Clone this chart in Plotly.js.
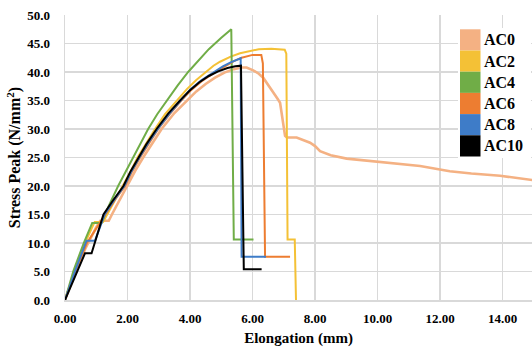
<!DOCTYPE html>
<html>
<head>
<meta charset="utf-8">
<script src="https://cdn.plot.ly/plotly-3.0.1.min.js"></script>
<style>html,body{margin:0;padding:0;background:#fff;}#chart{width:532px;height:349px;}</style>
</head>
<body>
<div id="chart"></div>
<script>
// Series names and colours
const seriesNames = ["AC0", "AC2", "AC4", "AC6", "AC8", "AC10"];
const seriesColors = ["#F4B183", "#F4C136", "#70AD47", "#ED7D31", "#3E7CC8", "#000000"];

// Elongation (mm) / Stress (N/mm2) values
const ac0X = [0, 0.3, 0.65, 1.0, 1.13, 1.40, 1.5, 1.75, 1.97, 2.25, 2.5, 2.8, 3.09, 3.5, 3.89, 4.2, 4.5, 4.8, 5.1, 5.4, 5.65, 5.81, 6.02, 6.2, 6.34, 6.6, 6.8, 6.88, 6.98, 7.04, 7.1, 7.41, 7.84, 8.0, 8.16, 8.5, 9.01, 10.08, 11.36, 12.31, 13.0, 13.92, 15.0];
const ac0Y = [0, 4.5, 9.0, 12.8, 13.9, 13.9, 15.0, 17.6, 20.0, 22.7, 25.0, 27.6, 30.0, 32.8, 35.0, 36.6, 37.9, 39.0, 39.9, 40.5, 40.8, 40.8, 40.3, 39.7, 39.0, 37.0, 35.3, 34.6, 31.1, 28.8, 28.5, 28.5, 27.6, 27.0, 26.1, 25.4, 24.8, 24.2, 23.5, 22.6, 22.2, 21.8, 21.0];

const ac2X = [0, 0.3, 0.6, 0.95, 1.22, 1.35, 1.6, 1.85, 2.1, 2.32, 2.6, 2.88, 3.2, 3.58, 3.9, 4.2, 4.5, 4.75, 4.96, 5.3, 5.6, 5.9, 6.2, 6.6, 6.9, 7.03, 7.08, 7.12, 7.35, 7.39];
const ac2Y = [0, 5.0, 9.5, 13.7, 13.7, 15.0, 17.6, 20.0, 22.6, 25.0, 27.6, 30.0, 32.6, 35.0, 37.0, 38.6, 40.0, 41.1, 41.8, 42.7, 43.3, 43.7, 44.0, 44.1, 44.0, 43.9, 43.2, 10.6, 10.6, 0];

const ac4X = [0, 0.27, 0.6, 0.87, 1.17, 1.4, 1.70, 1.95, 2.19, 2.4, 2.66, 2.95, 3.26, 3.6, 3.94, 4.3, 4.6, 5.0, 5.32, 5.40, 6.03];
const ac4Y = [0, 5.1, 10.0, 13.5, 13.5, 16.5, 20.0, 22.6, 25.0, 27.3, 30.0, 32.6, 35.0, 37.6, 40.0, 42.2, 44.0, 46.0, 47.5, 10.6, 10.6];

const ac6X = [0, 0.35, 0.7, 1.0, 1.3, 1.6, 1.92, 2.15, 2.4, 2.7, 2.98, 3.35, 3.72, 4.05, 4.4, 4.78, 5.1, 5.4, 5.65, 6.0, 6.28, 6.33, 6.40, 7.2];
const ac6Y = [0, 5.3, 10.0, 12.5, 15.0, 17.6, 20.0, 22.6, 25.0, 27.6, 30.0, 32.6, 35.0, 36.9, 38.5, 39.9, 41.0, 41.9, 42.5, 43.0, 43.0, 41.5, 7.6, 7.6];

const ac8X = [0, 0.35, 0.69, 0.96, 1.27, 1.58, 1.9, 2.13, 2.38, 2.67, 2.97, 3.33, 3.7, 4.0, 4.35, 4.75, 5.05, 5.3, 5.62, 5.65, 6.43];
const ac8Y = [0, 5.5, 10.4, 10.4, 15.0, 17.6, 20.0, 22.6, 25.0, 27.6, 30.0, 32.6, 35.0, 36.9, 38.5, 40.0, 41.0, 41.7, 42.4, 7.6, 7.6];

const ac10X = [0, 0.3, 0.64, 0.85, 1.0, 1.23, 1.5, 1.87, 2.1, 2.35, 2.6, 2.93, 3.3, 3.68, 4.0, 4.3, 4.6, 4.9, 5.2, 5.45, 5.63, 5.72, 6.29];
const ac10Y = [0, 4.0, 8.2, 8.2, 11.0, 15.0, 17.2, 20.0, 22.6, 25.0, 27.3, 30.0, 32.7, 35.0, 36.8, 38.2, 39.3, 40.1, 40.7, 41.0, 41.1, 5.4, 5.4];

const xTickVals = [0, 2, 4, 6, 8, 10, 12, 14];
const xTickText = ["0.00", "2.00", "4.00", "6.00", "8.00", "10.00", "12.00", "14.00"];
const yTickVals = [0, 5, 10, 15, 20, 25, 30, 35, 40, 45, 50];
const yTickText = ["0.0", "5.0", "10.0", "15.0", "20.0", "25.0", "30.0", "35.0", "40.0", "45.0", "50.0"];

const xs = [ac0X, ac2X, ac4X, ac6X, ac8X, ac10X];
const ys = [ac0Y, ac2Y, ac4Y, ac6Y, ac8Y, ac10Y];

const traces = seriesNames.map((n, i) => ({
  x: xs[i], y: ys[i], name: n, type: 'scatter', mode: 'lines',
  line: {color: seriesColors[i], width: i === 0 ? 2.6 : 2},
  showlegend: false, hoverinfo: 'skip'
}));

// Layout geometry (pixels)
const W = 532, H = 349, mL = 65, mR = 0, mT = 15, mB = 49;
const pw = W - mL - mR, ph = H - mT - mB;
const px2x = p => (p - mL) / pw;
const px2y = p => (H - mB - p) / ph;

const shapes = [];
const annotations = [];
// legend background
shapes.push({type: 'rect', xref: 'paper', yref: 'paper', x0: px2x(458), x1: px2x(531), y0: px2y(158), y1: px2y(28), fillcolor: '#ffffff', line: {width: 0}, layer: 'above'});
const rowH = 21.2, legTop = 29.3;
seriesNames.forEach((n, i) => {
  const t = legTop + i * rowH;
  shapes.push({type: 'rect', xref: 'paper', yref: 'paper', x0: px2x(460), x1: px2x(480.5), y0: px2y(t + rowH), y1: px2y(t), fillcolor: seriesColors[i], line: {width: 0}, layer: 'above'});
  annotations.push({xref: 'paper', yref: 'paper', x: px2x(482), y: px2y(t + rowH / 2), xanchor: 'left', yanchor: 'middle', text: '<b>' + n + '</b>', showarrow: false, font: {family: 'Liberation Serif, Times New Roman, serif', size: 16, color: '#000'}});
});

const layout = {
  width: W, height: H,
  margin: {l: mL, r: mR, t: mT, b: mB, pad: 0},
  paper_bgcolor: '#ffffff', plot_bgcolor: '#ffffff',
  showlegend: false,
  font: {family: 'Liberation Serif, Times New Roman, serif', color: '#000'},
  xaxis: {
    range: [0, 14.94], tickvals: xTickVals, ticktext: xTickText.map(t => '<b>' + t + '</b>'),
    showgrid: true, gridcolor: '#d9d9d9', gridwidth: 1.5, zeroline: false,
    showline: true, linecolor: '#d9d9d9', linewidth: 1.5, ticks: '',
    tickfont: {size: 13, color: '#000'}, ticklabelstandoff: 6,
    title: {text: '<b>Elongation (mm)</b>', font: {size: 15, color: '#000'}, standoff: 7},
    fixedrange: true
  },
  yaxis: {
    range: [0, 50], tickvals: yTickVals, ticktext: yTickText.map(t => '<b>' + t + '</b>'),
    showgrid: true, gridcolor: '#d9d9d9', gridwidth: 1.5, zeroline: false,
    showline: true, linecolor: '#d9d9d9', linewidth: 1.5, ticks: '',
    tickfont: {size: 13, color: '#000'}, ticklabelstandoff: 11,
    title: {text: '<b>Stress Peak (N/mm<sup>2</sup>)</b>', font: {size: 16, color: '#000'}, standoff: 2},
    fixedrange: true
  },
  shapes: shapes,
  annotations: annotations
};

Plotly.newPlot('chart', traces, layout, {staticPlot: true, displayModeBar: false});
</script>
</body>
</html>
